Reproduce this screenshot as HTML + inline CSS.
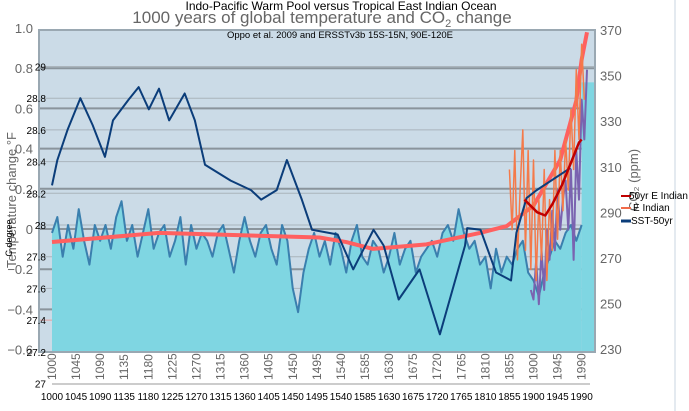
<!DOCTYPE html>
<html><head><meta charset="utf-8"><style>
body{margin:0;background:#fff;width:689px;height:411px;overflow:hidden;font-family:"Liberation Sans",sans-serif}
svg{display:block}
</style></head><body>
<svg id="c" width="689" height="411" xmlns="http://www.w3.org/2000/svg">
<rect x="0" y="0" width="689" height="411" fill="#fff"/>
<line x1="675" y1="0" x2="675" y2="411" stroke="#c8d4e0"/>
<text x="341" y="10" font-size="12" text-anchor="middle" fill="#000">Indo-Pacific Warm Pool versus Tropical East Indian Ocean</text>
<text x="322" y="23" font-size="17" text-anchor="middle" fill="#666">1000 years of global temperature and CO<tspan font-size="11" dy="4">2</tspan><tspan dy="-4"> change</tspan></text>
<rect x="39" y="30" width="556" height="322" fill="#cbdbe7" stroke="#9aa8b2" stroke-width="2"/>
<g id="grid"></g>
<g id="series"></g>
<text x="340" y="38" font-size="9.5" text-anchor="middle" fill="#000">Oppo et al. 2009 and ERSSTv3b 15S-15N, 90E-120E</text>
<g id="axes"></g>
<text transform="translate(16,200) rotate(-90)" font-size="13" text-anchor="middle" fill="#666">Temperature change °F</text>
<text transform="translate(12,238) rotate(-90)" font-size="9" text-anchor="middle" fill="#000">C degree</text>
<text transform="translate(638,180) rotate(-90)" font-size="13" text-anchor="middle" fill="#666">CO₂ (ppm)</text>
<g font-size="10" fill="#000">
<line x1="621" y1="196" x2="631" y2="196" stroke="#c00000" stroke-width="2"/>
<text x="629" y="199">50yr E Indian</text>
<line x1="621" y1="208" x2="631" y2="208" stroke="#f26b4a" stroke-width="2"/>
<text x="633" y="211">E Indian</text>
<line x1="621" y1="221" x2="631" y2="221" stroke="#0b3d7a" stroke-width="3"/>
<text x="631" y="224">SST-50yr</text>
</g>
</svg>
<script>
const tealYears=[];for(let i=0;i<100;i++)tealYears.push(1000+i*10);
const tealValues=[27.95,28.05,27.8,28.0,27.85,28.1,27.9,27.75,28.0,27.9,
28.0,27.85,28.05,28.15,27.9,28.0,27.8,27.95,28.1,27.85,
27.95,28.0,27.8,27.9,28.05,27.75,28.0,27.85,27.95,27.9,
27.8,27.95,28.0,27.85,27.7,27.9,28.05,27.9,27.8,27.95,
28.0,27.85,27.75,28.0,27.9,27.6,27.45,27.7,27.85,27.95,
27.8,27.9,27.75,27.95,27.85,27.7,27.9,28.0,27.8,27.75,
27.9,27.85,27.7,27.8,27.95,27.75,27.85,27.9,27.7,27.8,
27.85,27.9,27.8,27.95,28.0,27.9,28.1,27.95,27.85,27.9,
27.75,27.8,27.6,27.85,27.7,27.8,27.75,27.85,27.9,27.7,
27.65,27.55,27.7,27.8,27.9,27.85,27.95,28.0,27.9,28.0];
const sstYears=[1000,1010,1029,1053,1076,1099,1114,1143,1162,1181,1200,1219,1248,1267,1286,1334,1372,1391,1420,1439,1467,1486,1534,1563,1601,1620,1648,1687,1725,1772,1776,1801,1830,1858,1868,1887,1906,1969];
const sstValues=[28.25,28.41,28.6,28.8,28.63,28.43,28.66,28.79,28.87,28.73,28.86,28.66,28.83,28.66,28.38,28.28,28.22,28.16,28.22,28.41,28.16,27.97,27.94,27.72,27.97,27.87,27.53,27.72,27.31,27.87,27.98,27.97,27.7,27.65,27.95,28.17,28.22,28.36];
const co2Years=[1000,1200,1500,1550,1600,1700,1800,1850,1900,1950,1980,1990,2000];
const co2Values=[277,281,279,277,274,276,281,284,293,313,339,357,369];
const eIndYears=[];for(let y=1855;y<=1995;y+=5)eIndYears.push(y);
const eIndValues=[28.35,27.97,28.47,27.78,28.22,28.6,27.84,28.47,27.72,28.41,27.65,28.16,27.78,28.35,27.65,28.16,27.84,28.47,27.91,28.47,28.09,28.54,28.22,28.73,28.35,28.98,28.54,29.14,28.79];
const e50Years=[1883,1907,1922,1935,1953,1972,1985,1990];
const e50Values=[28.16,28.08,28.06,28.13,28.25,28.41,28.52,28.54];
const purYears=[];for(let y=1895;y<=2000;y+=5)purYears.push(y);
const purValues=[27.59,27.53,27.78,27.5,27.84,27.59,27.97,27.78,28.09,27.84,28.22,27.97,28.16,28.28,27.97,28.35,27.78,28.47,28.16,28.79,28.54,28.98];
const outerTicks=["1.0","0.8","0.6","0.4","0.2","0","−0.2","−0.4","−0.6"];
const innerTicks=["29","28.8","28.6","28.4","28.2","28","27.8","27.6","27.4","27.2","27"];
const rightTicks=["370","350","330","310","290","270","250","230"];
const xTicks=[];for(let y=1000;y<=1990;y+=45)xTicks.push(y);

const NS="http://www.w3.org/2000/svg";
const X=y=>52+(y-1000)*0.535;
const YI=v=>225-(v-28)*158.5;
const YO=v=>229-v*201;
const YR=p=>30+(370-p)*2.28;
const BOT=351;
function mk(tag,attrs,parent){const e=document.createElementNS(NS,tag);for(const k in attrs)e.setAttribute(k,attrs[k]);parent.appendChild(e);return e;}
const grid=document.getElementById('grid'),ser=document.getElementById('series'),ax=document.getElementById('axes');
innerTicks.forEach(t=>{const v=parseFloat(t);const y=YI(v);if(y<32||y>348)return;
 const l=mk('line',{x1:40,x2:594,y1:y,y2:y,stroke:v==27.4?'#e0a0a0':'#aab4bc','stroke-width':1},grid);
 
 });
outerTicks.forEach(t=>{const v=parseFloat(t.replace('−','-'));const y=YO(v);if(y<35||y>345)return;
 const l=mk('line',{x1:40,x2:594,y1:y,y2:y,stroke:'#8a949c','stroke-width':2},grid);
 
 });
let d='M'+X(tealYears[0])+' '+BOT;
tealYears.forEach((y,i)=>{d+=' L'+X(y)+' '+YI(tealValues[i]);});
d+=' L'+X(tealYears[tealYears.length-1])+' '+BOT+' Z';
const area=mk('path',{d:d,fill:'#7fd6e2'},ser);


const right=mk('rect',{x:X(1990),y:YI(28.9),width:594-X(1990),height:BOT-YI(28.9),fill:'#7fd6e2'},ser);


function line(xs,vs,sc,stroke,w,name){const p=mk('polyline',{points:xs.map((y,i)=>X(y)+','+sc(vs[i])).join(' '),fill:'none',stroke:stroke,'stroke-width':w,'stroke-linejoin':'round'},ser);
 
 }
line(tealYears,tealValues,YI,'#3a7fae',2,'sst-annual-line');
line(purYears,purValues,YI,'#7a63b0',2,'purple-series-line');
line(co2Years,co2Values,YR,'#ff6060',4,'co2-line');
line(eIndYears,eIndValues,YI,'#f47a4a',1.5,'e-indian-line');
line(sstYears,sstValues,YI,'#0b3d7a',2,'sst-50yr-line');
line(e50Years,e50Values,YI,'#c00000',2.5,'e-indian-50yr-line');
outerTicks.forEach(t=>{const v=parseFloat(t.replace('−','-'));const e=mk('text',{x:33,y:YO(v)+5,'font-size':13,'text-anchor':'end',fill:'#666'},ax);e.textContent=t;
 
 });
innerTicks.forEach(t=>{const v=parseFloat(t);const e=mk('text',{x:46,y:YI(v)+4,'font-size':10,'text-anchor':'end',fill:'#000'},ax);e.textContent=t;
 
 });
rightTicks.forEach(t=>{const e=mk('text',{x:600,y:YR(+t)+5,'font-size':13,fill:'#666'},ax);e.textContent=t;
 
 });
mk('line',{x1:52,x2:590,y1:384,y2:384,stroke:'#999'},ax);
xTicks.forEach(y=>{const e=mk('text',{x:X(y),y:400,'font-size':10,'text-anchor':'middle',fill:'#000'},ax);e.textContent=y;
 
 
 const r=mk('text',{transform:'translate('+(X(y)+4)+',380) rotate(-90)','font-size':12,'text-anchor':'start',fill:'#666'},ax);r.textContent=y;
 
 });
</script>
</body></html>
